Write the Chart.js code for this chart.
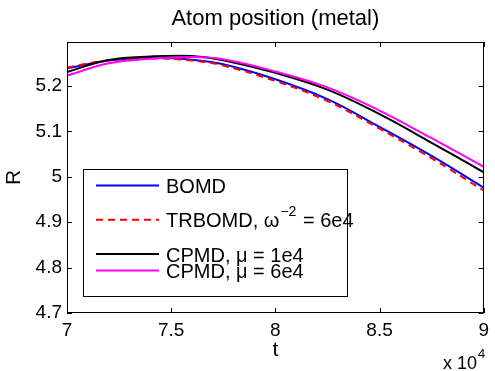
<!DOCTYPE html>
<html>
<head>
<meta charset="utf-8">
<script src="https://cdn.jsdelivr.net/npm/chart.js@4.4.0/dist/chart.umd.min.js"></script>
<style>
html,body{margin:0;padding:0;background:#fff;}
#wrap{width:495px;height:371px;position:relative;}
</style>
</head>
<body>
<div id="wrap"><canvas id="c" width="495" height="371"></canvas></div>
<script>
// ---- data (t in units of 1e4) ----
const tVals   = [7.0, 7.2, 7.4, 7.6, 7.75, 8.0, 8.25, 8.5, 8.75, 9.0];
const bomd    = [5.239, 5.256, 5.262, 5.258, 5.248, 5.215, 5.171, 5.110, 5.046, 4.976];
const trbomd  = [5.241, 5.257, 5.261, 5.256, 5.245, 5.211, 5.167, 5.106, 5.041, 4.970];
const cpmd1e4 = [5.231, 5.2575, 5.265, 5.266, 5.257, 5.229, 5.192, 5.138, 5.075, 5.010];
const cpmd6e4 = [5.223, 5.250, 5.260, 5.264, 5.259, 5.232, 5.197, 5.146, 5.085, 5.022];
const xTicks  = [7, 7.5, 8, 8.5, 9];
const yTicks  = [4.7, 4.8, 4.9, 5.0, 5.1, 5.2];
const chartTitle = 'Atom position (metal)';

const FONT = '"Liberation Sans", Arial, Helvetica, sans-serif';
const pts = arr => arr.map((v, i) => ({x: tVals[i], y: v}));

const decorPlugin = {
  id: 'decor',
  afterDraw(chart) {
    const ctx = chart.ctx;
    const a = chart.chartArea;
    const xs = chart.scales.x, ys = chart.scales.y;
    ctx.save();
    // box
    ctx.strokeStyle = '#000';
    ctx.lineWidth = 1;
    ctx.strokeRect(Math.round(a.left) + 0.5, Math.round(a.top) + 0.5,
                   Math.round(a.right - a.left) - 1, Math.round(a.bottom - a.top) - 1);
    // inward ticks
    const tl = 5;
    ctx.beginPath();
    xs.ticks.forEach(t => {
      const px = Math.round(xs.getPixelForValue(t.value)) + 0.5;
      ctx.moveTo(px, a.bottom); ctx.lineTo(px, a.bottom - tl);
      ctx.moveTo(px, a.top); ctx.lineTo(px, a.top + tl);
    });
    ys.ticks.forEach(t => {
      const py = Math.round(ys.getPixelForValue(t.value)) + 0.5;
      ctx.moveTo(a.left, py); ctx.lineTo(a.left + tl, py);
      ctx.moveTo(a.right, py); ctx.lineTo(a.right - tl, py);
    });
    ctx.stroke();

    // title
    ctx.fillStyle = '#000';
    ctx.font = '22px ' + FONT;
    ctx.textAlign = 'center';
    ctx.textBaseline = 'alphabetic';
    ctx.fillText(chartTitle, (a.left + a.right) / 2, 25);

    // x 10^4 multiplier
    ctx.textAlign = 'left';
    ctx.font = '18px ' + FONT;
    ctx.fillText('x 10', 443, 369);
    const w = ctx.measureText('x 10').width;
    ctx.font = '13px ' + FONT;
    ctx.fillText('4', 443 + w + 1, 358);

    // legend
    const L = a.left + 16, T = a.top + 127, R = L + 264, B = T + 127;
    ctx.fillStyle = '#fff';
    ctx.fillRect(L, T, R - L, B - T);
    ctx.strokeStyle = '#000';
    ctx.lineWidth = 1;
    ctx.strokeRect(Math.round(L) + 0.5, Math.round(T) + 0.5, Math.round(R - L), Math.round(B - T));
    const rowsY = [T + 16.5, T + 50.7, T + 85, T + 101.5];
    const ds = chart.data.datasets;
    const x0 = L + 13, x1 = L + 76, tx = L + 83;
    ds.forEach((d, i) => {
      const y = rowsY[i];
      ctx.save();
      ctx.strokeStyle = d.borderColor;
      ctx.lineWidth = d.borderWidth;
      ctx.setLineDash(d.borderDash || []);
      ctx.beginPath(); ctx.moveTo(x0, y); ctx.lineTo(x1, y); ctx.stroke();
      ctx.restore();
      ctx.fillStyle = '#000';
      ctx.textAlign = 'left';
      ctx.font = '20px ' + FONT;
      let x = tx;
      d.legendParts.forEach(p => {
        if (p.sup) {
          ctx.font = '14px ' + FONT;
          ctx.fillText(p.text, x, y + 7.5 - 11);
          x += ctx.measureText(p.text).width + 1;
          ctx.font = '20px ' + FONT;
        } else {
          ctx.fillText(p.text, x, y + 7.5);
          x += ctx.measureText(p.text).width + (p.gap || 0);
        }
      });
    });
    ctx.restore();
  }
};

const ds = (label, data, color, order, dash, parts) => ({
  label, data: pts(data), borderColor: color, backgroundColor: color,
  borderWidth: 2, borderDash: dash, pointRadius: 0, fill: false,
  tension: 0.4, order, legendParts: parts
});

new Chart(document.getElementById('c'), {
  type: 'line',
  data: {
    datasets: [
      ds('BOMD', bomd, '#0000ff', 4, [], [{text: 'BOMD'}]),
      ds('TRBOMD, ω^-2 = 6e4', trbomd, '#ff0000', 3, [7, 5],
         [{text: 'TRBOMD, ω', gap: 1}, {text: '−2', sup: true}, {text: ' = 6e4'}]),
      ds('CPMD, μ = 1e4', cpmd1e4, '#000000', 2, [], [{text: 'CPMD, μ = 1e4'}]),
      ds('CPMD, μ = 6e4', cpmd6e4, '#ff00ff', 1, [], [{text: 'CPMD, μ = 6e4'}])
    ]
  },
  options: {
    responsive: false,
    devicePixelRatio: 1,
    animation: false,
    layout: {padding: {top: 42, right: 5, left: 0, bottom: 0}},
    plugins: {legend: {display: false}, tooltip: {enabled: false}, title: {display: false}},
    scales: {
      x: {
        type: 'linear', min: 7, max: 9,
        afterBuildTicks: s => { s.ticks = xTicks.map(v => ({value: v})); },
        afterFit: s => { s.height = 58; },
        grid: {display: false, drawTicks: false},
        border: {display: false},
        ticks: {color: '#000', font: {family: FONT, size: 19}, padding: 6,
                maxRotation: 0, autoSkip: false, callback: v => String(v)},
        title: {display: true, text: 't', color: '#000', font: {family: FONT, size: 21},
                padding: {top: 0, bottom: 8}}
      },
      y: {
        type: 'linear', min: 4.7, max: 5.297,
        afterBuildTicks: s => { s.ticks = yTicks.map(v => ({value: v})); },
        afterFit: s => { s.width = 67; },
        grid: {display: false, drawTicks: false},
        border: {display: false},
        ticks: {color: '#000', font: {family: FONT, size: 19}, padding: 5,
                autoSkip: false, callback: v => String(Math.round(v * 10) / 10)},
        title: {display: true, text: 'R', color: '#000', font: {family: FONT, size: 21},
                padding: {top: 2, bottom: 0}}
      }
    }
  },
  plugins: [decorPlugin]
});
</script>
</body>
</html>
